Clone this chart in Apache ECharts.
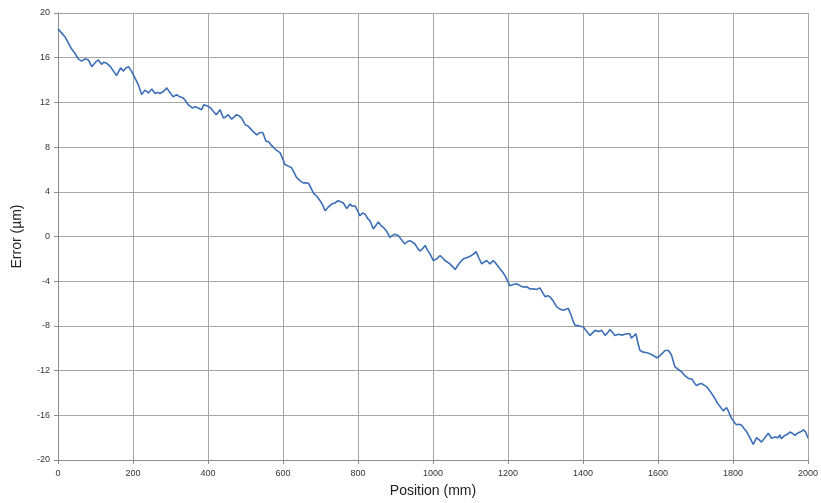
<!DOCTYPE html>
<html>
<head>
<meta charset="utf-8">
<script src="https://cdn.jsdelivr.net/npm/echarts@6/dist/echarts.min.js"></script>
<style>html,body{margin:0;padding:0;background:#fff}#c{width:821px;height:503px}</style>
</head>
<body>
<div id="c"></div>
<script>
const positions = [0,3,10,20,36,45,54,63,72,81,90,100,108,116,122,130,140,152,156,167,174,182,188,196,205,214,223,232,241,250,259,266,272,282,290,298,307,316,325,334,341,347,358,366,374,383,389,400,407,414,422,432,441,447,454,463,470,476,483,490,499,506,512,520,530,538,546,555,561,568,574,583,592,600,605,614,623,630,636,645,654,661,668,675,681,690,699,706,712,720,730,738,747,754,761,770,779,785,792,799,805,812,819,826,832,841,848,854,861,868,876,885,892,899,908,916,925,932,939,945,952,958,965,972,979,985,992,1001,1010,1019,1025,1032,1039,1045,1052,1059,1068,1075,1081,1090,1099,1107,1115,1122,1130,1136,1143,1152,1161,1170,1179,1186,1192,1199,1205,1214,1223,1232,1241,1250,1259,1268,1276,1285,1292,1299,1306,1312,1321,1330,1339,1348,1355,1361,1368,1374,1379,1390,1401,1410,1419,1426,1432,1441,1450,1459,1466,1472,1479,1485,1494,1502,1508,1516,1525,1529,1535,1541,1547,1552,1561,1570,1579,1583,1590,1597,1604,1610,1619,1628,1636,1645,1650,1656,1663,1670,1675,1681,1690,1697,1703,1710,1716,1723,1730,1740,1752,1758,1765,1774,1783,1790,1796,1803,1809,1816,1823,1830,1836,1845,1854,1863,1870,1876,1885,1894,1903,1912,1921,1925,1929,1938,1945,1952,1958,1965,1972,1979,1988,1994,2000];
const errors = [18.6,18.5,18.2,17.8,16.8,16.4,15.9,15.7,15.9,15.8,15.2,15.6,15.8,15.4,15.6,15.5,15.2,14.6,14.4,15.1,14.8,15.1,15.2,14.8,14.2,13.6,12.7,13.1,12.85,13.2,12.8,12.9,12.8,13.0,13.3,12.9,12.5,12.7,12.5,12.4,12.1,11.8,11.5,11.6,11.5,11.35,11.8,11.65,11.5,11.2,10.9,11.35,10.6,10.7,10.9,10.5,10.7,10.9,10.8,10.6,10.0,9.9,9.7,9.4,9.1,9.3,9.3,8.5,8.5,8.2,8.0,7.7,7.5,6.9,6.45,6.3,6.15,5.7,5.3,5.0,4.8,4.8,4.77,4.3,3.9,3.6,3.2,2.8,2.3,2.6,2.9,3.0,3.2,3.1,3.0,2.5,2.9,2.7,2.75,2.3,1.85,2.1,2.0,1.6,1.4,0.67,1.0,1.3,1.0,0.8,0.5,-0.07,0.1,0.2,0.07,-0.3,-0.67,-0.45,-0.37,-0.5,-0.67,-1.0,-1.3,-1.1,-0.8,-1.2,-1.56,-2.15,-2.0,-1.7,-1.9,-2.15,-2.3,-2.45,-2.7,-2.95,-2.5,-2.2,-2.0,-1.9,-1.77,-1.6,-1.35,-1.9,-2.45,-2.3,-2.15,-2.45,-2.15,-2.5,-2.9,-3.2,-3.5,-4.0,-4.4,-4.3,-4.23,-4.4,-4.53,-4.5,-4.7,-4.68,-4.75,-4.6,-5.0,-5.4,-5.3,-5.4,-5.8,-6.3,-6.5,-6.6,-6.5,-6.45,-7.0,-7.6,-7.95,-8.0,-8.1,-8.5,-8.85,-8.6,-8.4,-8.5,-8.4,-8.85,-8.6,-8.33,-8.6,-8.85,-8.75,-8.8,-8.8,-8.7,-8.7,-9.1,-8.9,-8.7,-9.6,-10.2,-10.35,-10.4,-10.5,-10.5,-10.7,-10.85,-10.7,-10.5,-10.2,-10.2,-10.6,-11.65,-11.8,-11.95,-12.1,-12.4,-12.55,-12.7,-12.75,-13.1,-13.35,-13.2,-13.15,-13.3,-13.45,-13.9,-14.5,-14.9,-15.2,-15.6,-15.3,-15.8,-16.25,-16.6,-16.85,-16.8,-16.9,-17.2,-17.45,-18.0,-18.6,-18.0,-18.2,-18.4,-18.0,-17.6,-18.05,-17.95,-18.0,-17.75,-18.1,-17.8,-17.7,-17.5,-17.6,-17.8,-17.6,-17.5,-17.3,-17.5,-18.05];
const xTicks = {min: 0, max: 2000, interval: 200};
const yTicks = {min: -20, max: 20, interval: 4};

const data = positions.map((p, i) => [p, errors[i]]);
const chart = echarts.init(document.getElementById('c'), null, {renderer: 'canvas'});
const font = 'Liberation Sans, Arial, sans-serif';
chart.setOption({
  animation: false,
  backgroundColor: '#ffffff',
  grid: {left: 58, right: 13, top: 13, bottom: 41, containLabel: false},
  xAxis: {
    type: 'value', min: xTicks.min, max: xTicks.max, interval: xTicks.interval,
    name: 'Position (mm)', nameLocation: 'middle', nameGap: 24,
    nameTextStyle: {fontFamily: font, fontSize: 14, color: '#222'},
    axisLine: {show: true, onZero: false, lineStyle: {color: '#8c8c8c', width: 1}},
    axisTick: {show: true, length: 4, lineStyle: {color: '#8c8c8c'}},
    axisLabel: {fontFamily: font, fontSize: 9, color: '#333', margin: 9, formatter: v => String(v)},
    splitLine: {show: true, lineStyle: {color: '#a6a6a6', width: 1}}
  },
  yAxis: {
    type: 'value', min: yTicks.min, max: yTicks.max, interval: yTicks.interval,
    name: 'Error (µm)', nameLocation: 'middle', nameGap: 34, nameRotate: 90,
    nameTextStyle: {fontFamily: font, fontSize: 14, color: '#222'},
    axisLine: {show: true, lineStyle: {color: '#8c8c8c', width: 1}},
    axisTick: {show: true, length: 4, lineStyle: {color: '#8c8c8c'}},
    axisLabel: {fontFamily: font, fontSize: 9, color: '#333', margin: 8, formatter: v => String(v)},
    splitLine: {show: true, lineStyle: {color: '#a6a6a6', width: 1}}
  },
  series: [{
    type: 'line', data: data, showSymbol: false, symbol: 'none',
    lineStyle: {color: '#3d6fb8', width: 1.6}, smooth: false
  }]
});
</script>
</body>
</html>
